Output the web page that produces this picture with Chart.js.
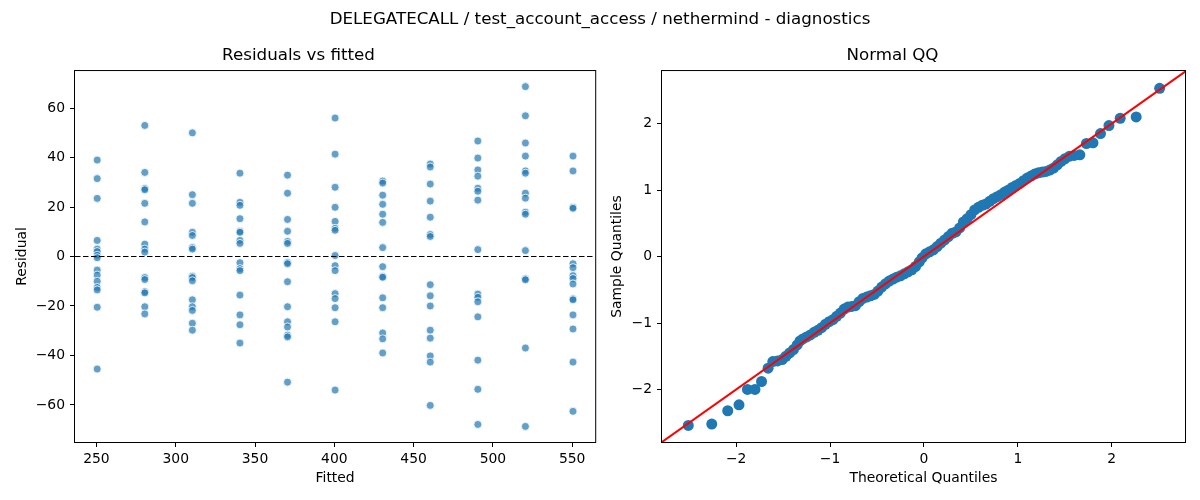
<!DOCTYPE html>
<html lang="en">
<head>
    <meta charset="UTF-8">
    <title>DELEGATECALL / test_account_access / nethermind - diagnostics</title>
    <script src="https://cdn.jsdelivr.net/npm/chart.js@4.4.1/dist/chart.umd.min.js"></script>
    <style>
        body {
            margin: 0;
            background: #fff;
            font-family: "DejaVu Sans", sans-serif;
        }
        .fig {
            position: relative;
            width: 1200px;
            height: 500px;
        }
        .panel {
            position: absolute;
            top: 0;
            width: 600px;
            height: 500px;
        }
        .suptitle {
            position: absolute;
            left: 0;
            top: 8px;
            width: 1200px;
            text-align: center;
            font-size: 16.7px;
            line-height: 20px;
            color: #000;
        }
    </style>
</head>
<body>
    <div class="fig">
        <div class="panel" style="left:0"><canvas id="resid" width="600" height="500"></canvas></div>
        <div class="panel" style="left:600px"><canvas id="qq" width="600" height="500"></canvas></div>
        <div class="suptitle">DELEGATECALL / test_account_access / nethermind - diagnostics</div>
    </div>

    <script>
        // residuals vs fitted: one list of residuals per fitted level
        const fittedLevels = [250.5, 280.5, 310.5, 340.5, 370.5, 400.5, 430.5, 460.5, 490.5, 520.5, 550.5];
        const res250 = [39, 31.5, 23.5, 6.5, 3, 2, 0.5, -0.5, -5.5, -7.5, -10, -12.5, -13.5, -20.5, -45.5];
        const res280 = [53, 34, 27.5, 27, 21.5, 14, 5, 3, 1.8, -8.5, -9.3, -14.2, -14.7, -20.3, -23.2];
        const res310 = [50, 25, 21.5, 9.8, 8.5, 3.6, 3, -8, -8.5, -9.8, -17.5, -20.3, -21.8, -27, -29.8];
        const res340 = [33.7, 21.9, 20.7, 15.3, 10.2, 9.8, 6.5, 5.3, -2.5, -4.9, -5.7, -15.6, -23.6, -27.6, -35];
        const res370 = [32.9, 25.6, 15, 10.2, 6.1, 5.3, -2.4, -2.9, -10.2, -20.3, -26.4, -28.5, -31.8, -32.5, -50.8];
        const res400 = [56, 41.4, 28, 19.9, 14.2, 11.4, 10.6, 0.4, -3.7, -5.7, -15, -17, -20.7, -26.4, -54];
        const res430 = [30.5, 29.7, 24.8, 21.1, 17.1, 13.8, 3.6, -4.1, -8.1, -8.4, -16.7, -20.7, -30.9, -33.3, -39];
        const res460 = [37.4, 36.2, 29.3, 22.4, 15.9, 8.9, 8.1, -11.4, -15.9, -20, -29.8, -33, -40.2, -42.7, -60.2];
        const res490 = [46.7, 39.8, 35, 32.5, 27.6, 26.4, 22.8, 2.8, -15.2, -16.5, -18.3, -24.4, -41.9, -53.7, -67.9];
        const res520 = [68.7, 56.9, 45.9, 40.6, 34.6, 33.7, 25.6, 23.6, 17.9, 17.1, 2.4, -9, -9.4, -37, -68.7];
        const res550 = [40.6, 34.6, 19.9, 19.5, -2.9, -4.5, -7.7, -8.9, -11.1, -17.1, -17.5, -23.6, -29.3, -42.7, -62.6];
        const residualGroups = [res250, res280, res310, res340, res370, res400, res430, res460, res490, res520, res550];
        const residXLim = [236.5, 564.5];
        const residYLim = [-75, 75];

        // normal QQ
        const qqTheoretical = [
            -2.51, -2.26, -2.09, -1.97, -1.88, -1.80, -1.73, -1.66, -1.61, -1.56,
            -1.51, -1.47, -1.43, -1.39, -1.35, -1.32, -1.29, -1.25, -1.21, -1.17,
            -1.13, -1.09, -1.05, -1.01, -0.97, -0.93, -0.89, -0.85, -0.81, -0.77,
            -0.73, -0.69, -0.65, -0.61, -0.57, -0.53, -0.49, -0.45, -0.41, -0.37,
            -0.33, -0.29, -0.25, -0.21, -0.17, -0.13, -0.09, -0.05, -0.02, 0.02,
            0.06, 0.10, 0.14, 0.18, 0.22, 0.26, 0.30, 0.34, 0.38, 0.42,
            0.46, 0.50, 0.54, 0.58, 0.62, 0.66, 0.70, 0.74, 0.78, 0.82,
            0.86, 0.90, 0.94, 0.98, 1.02, 1.06, 1.10, 1.14, 1.18, 1.22,
            1.26, 1.30, 1.34, 1.38, 1.42, 1.46, 1.50, 1.55, 1.60, 1.66,
            1.73, 1.80, 1.88, 1.97, 2.09, 2.26, 2.51
        ];
        const qqSample = [
            -2.54, -2.52, -2.32, -2.23, -2.00, -2.00, -1.88, -1.68, -1.58, -1.57,
            -1.55, -1.50, -1.45, -1.40, -1.33, -1.27, -1.24, -1.21, -1.18, -1.14,
            -1.11, -1.07, -1.02, -0.98, -0.95, -0.90, -0.85, -0.79, -0.76, -0.75,
            -0.74, -0.68, -0.63, -0.61, -0.59, -0.57, -0.52, -0.46, -0.41, -0.37,
            -0.34, -0.31, -0.29, -0.26, -0.23, -0.20, -0.15, -0.08, -0.02, 0.04,
            0.07, 0.10, 0.15, 0.20, 0.25, 0.30, 0.35, 0.37, 0.43, 0.52,
            0.57, 0.63, 0.70, 0.74, 0.77, 0.79, 0.83, 0.87, 0.90, 0.93,
            0.97, 1.00, 1.04, 1.07, 1.10, 1.14, 1.18, 1.21, 1.24, 1.26,
            1.27, 1.28, 1.30, 1.33, 1.38, 1.43, 1.47, 1.51, 1.52, 1.53,
            1.70, 1.71, 1.85, 1.97, 2.08, 2.10, 2.53
        ];
        const qqLineEnds = [-3, 3];
        const qqXLim = [-2.79, 2.78];
        const qqYLim = [-2.79, 2.79];

        Chart.defaults.font.family = '"DejaVu Sans", sans-serif';
        Chart.defaults.color = '#000';

        const residPoints = [];
        fittedLevels.forEach((f, i) => {
            residualGroups[i].forEach(r => residPoints.push({x: f, y: r}));
        });
        const qqPoints = qqTheoretical.map((t, i) => ({x: t, y: qqSample[i]}));

        // matplotlib-like box round the plot area
        const framePlugin = {
            id: 'frame',
            afterDatasetsDraw(chart) {
                const {ctx, chartArea: a} = chart;
                ctx.save();
                ctx.strokeStyle = '#000';
                ctx.lineWidth = 1;
                ctx.strokeRect(a.left - 0.5, a.top - 0.5, a.right - a.left + 1, a.bottom - a.top + 1);
                ctx.restore();
            }
        };

        const minusSign = v => String(v).replace('-', '\u2212');

        function axis(lim, step, title, titlePad, isY, axisSize) {
            return {
                type: 'linear',
                min: lim[0],
                max: lim[1],
                grid: {
                    display: true,
                    drawOnChartArea: false,
                    drawTicks: true,
                    tickLength: 5,
                    color: '#000',
                    lineWidth: 1
                },
                border: { display: false },
                ticks: {
                    stepSize: step,
                    includeBounds: false,
                    padding: isY ? 5 : 4,
                    color: '#000',
                    font: { size: 13.9 },
                    callback: minusSign
                },
                title: {
                    display: true,
                    text: title,
                    color: '#000',
                    font: { size: 13.9 },
                    padding: titlePad
                },
                afterFit(scale) {
                    if (isY) scale.width = axisSize; else scale.height = axisSize;
                }
            };
        }

        function titleOpts(text) {
            return {
                display: true,
                text: text,
                color: '#000',
                font: { size: 16.7, weight: 'normal' },
                padding: { top: 46, bottom: 5 }
            };
        }

        new Chart(document.getElementById('resid'), {
            type: 'scatter',
            data: {
                datasets: [{
                    label: 'zero',
                    data: [{x: residXLim[0], y: 0}, {x: residXLim[1], y: 0}],
                    showLine: true,
                    borderColor: '#000',
                    borderWidth: 1.2,
                    borderDash: [5.5, 2.5],
                    pointRadius: 0,
                    order: 0
                }, {
                    label: 'Residual',
                    data: residPoints,
                    pointRadius: 4,
                    backgroundColor: 'rgba(31,119,180,0.7)',
                    borderColor: '#fff',
                    borderWidth: 0.8,
                    order: 1
                }]
            },
            options: {
                responsive: false,
                animation: false,
                layout: { padding: { left: 0, right: 3, top: 0, bottom: 0 } },
                plugins: {
                    legend: { display: false },
                    tooltip: { enabled: false },
                    title: titleOpts('Residuals vs fitted')
                },
                scales: {
                    x: axis(residXLim, 50, 'Fitted', { top: 4, bottom: 13.7 }, false, 58),
                    y: axis(residYLim, 20, 'Residual', { top: 13.7, bottom: 4 }, true, 75)
                }
            },
            plugins: [framePlugin]
        });

        new Chart(document.getElementById('qq'), {
            type: 'scatter',
            data: {
                datasets: [{
                    label: 'reference',
                    data: qqLineEnds.map(v => ({x: v, y: v})),
                    showLine: true,
                    borderColor: '#ff0000',
                    borderWidth: 2,
                    pointRadius: 0,
                    order: 0
                }, {
                    label: 'Sample',
                    data: qqPoints,
                    pointRadius: 5.5,
                    backgroundColor: '#1f77b4',
                    borderColor: '#1f77b4',
                    borderWidth: 0,
                    order: 1
                }]
            },
            options: {
                responsive: false,
                animation: false,
                layout: { padding: { left: 0, right: 15, top: 0, bottom: 0 } },
                plugins: {
                    legend: { display: false },
                    tooltip: { enabled: false },
                    title: titleOpts('Normal QQ')
                },
                scales: {
                    x: axis(qqXLim, 1, 'Theoretical Quantiles', { top: 4, bottom: 13.7 }, false, 58),
                    y: axis(qqYLim, 1, 'Sample Quantiles', { top: 9, bottom: 4 }, true, 62)
                }
            },
            plugins: [framePlugin]
        });
    </script>
</body>
</html>
